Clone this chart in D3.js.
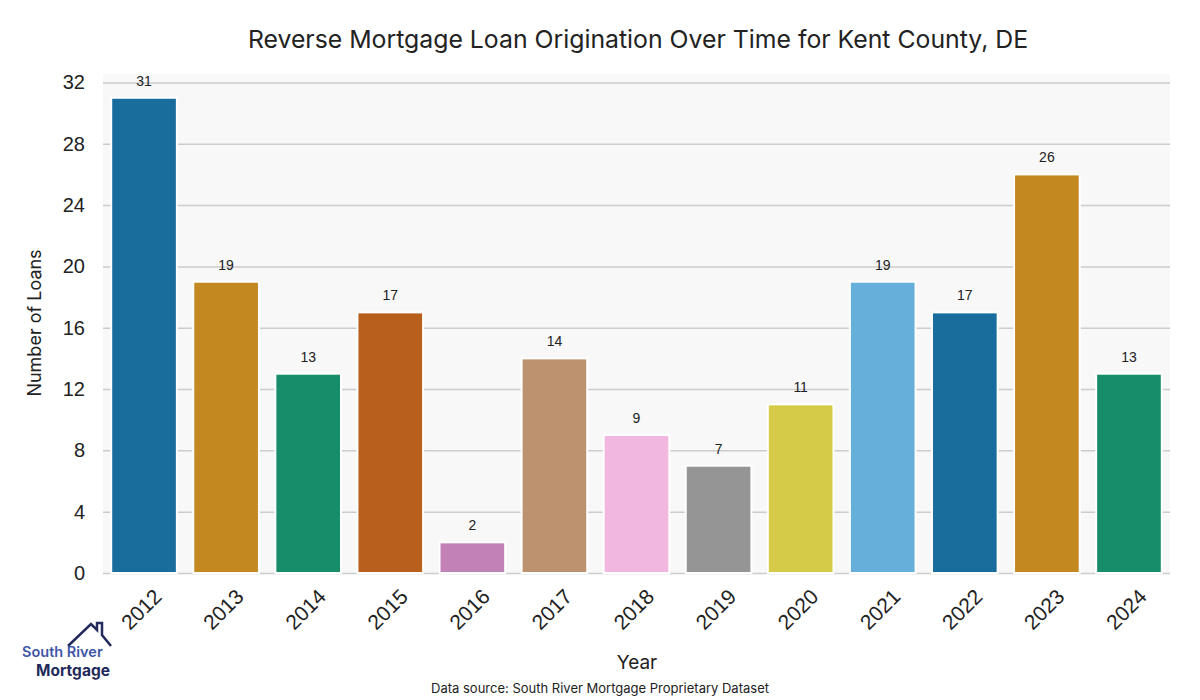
<!DOCTYPE html>
<html><head><meta charset="utf-8">
<script src="https://cdn.jsdelivr.net/npm/d3@7"></script>
<style>body{margin:0;background:#fff}</style>
</head><body>
<svg id="c" width="1200" height="700"></svg>
<script>
const years = ["2012","2013","2014","2015","2016","2017","2018","2019","2020","2021","2022","2023","2024"];
const loans = [31,19,13,17,2,14,9,7,11,19,17,26,13];
const yTicks = [0,4,8,12,16,20,24,28,32];
const palette = ["#186d9c","#c38820","#178d6a","#b85f1e","#c382b7","#bd926e","#f1b7e1","#959595","#d5cb49","#66afda"];

const svg = d3.select("#c");
const m = {l:103, r:1170, t:74, b:573};
const x = d3.scaleBand().domain(years).range([m.l, m.r]).paddingInner(0.2).paddingOuter(0.1);
const y = d3.scaleLinear().domain([0, d3.max(loans)*1.05]).range([m.b, m.t]);

svg.append("rect").attr("x",m.l).attr("y",m.t).attr("width",m.r-m.l).attr("height",m.b-m.t).attr("fill","#f8f8f8");

const gy = svg.append("g").attr("transform",`translate(${m.l},0)`)
  .call(d3.axisLeft(y).tickValues(yTicks).tickSize(-(m.r-m.l)).tickPadding(18));
gy.select(".domain").remove();
gy.selectAll(".tick line").attr("stroke","#cccccc").attr("stroke-width",1.5);
gy.selectAll(".tick text").attr("font-family","Liberation Sans, Arial, sans-serif").attr("font-size",20).attr("fill","#222");

svg.append("g").selectAll("rect").data(loans).join("rect")
  .attr("x",(d,i)=>x(years[i])).attr("width",x.bandwidth())
  .attr("y",d=>y(d)).attr("height",d=>y(0)-y(d))
  .attr("fill",(d,i)=>palette[i%palette.length])
  .attr("stroke","#fff").attr("stroke-width",2);

svg.append("g").selectAll("text").data(loans).join("text")
  .attr("x",(d,i)=>x(years[i])+x.bandwidth()/2).attr("y",d=>y(d)-12)
  .attr("text-anchor","middle").attr("font-family","Liberation Sans, Arial, sans-serif")
  .attr("font-size",14).attr("fill","#222").text(d=>d);

const gx = svg.append("g").attr("transform",`translate(0,${m.b})`)
  .call(d3.axisBottom(x).tickSize(0).tickPadding(0));
gx.select(".domain").remove();
gx.selectAll(".tick text")
  .attr("font-family","Liberation Sans, Arial, sans-serif").attr("font-size",21).attr("fill","#222")
  .attr("text-anchor","end").attr("dy",0)
  .attr("transform","translate(19,25) rotate(-45)");

svg.append("text").attr("x",638).attr("y",48).attr("text-anchor","middle")
  .attr("font-family","Inter, sans-serif").attr("font-size",24.8).attr("fill","#222")
  .text("Reverse Mortgage Loan Origination Over Time for Kent County, DE");

svg.append("text").attr("transform","translate(41,323) rotate(-90)").attr("text-anchor","middle")
  .attr("font-family","Inter, sans-serif").attr("font-size",18).attr("fill","#222").text("Number of Loans");

svg.append("text").attr("x",637).attr("y",669).attr("text-anchor","middle")
  .attr("font-family","Inter, sans-serif").attr("font-size",19).attr("fill","#222").text("Year");

svg.append("text").attr("x",600).attr("y",693).attr("text-anchor","middle")
  .attr("font-family","Inter, sans-serif").attr("font-size",13).attr("fill","#222")
  .text("Data source: South River Mortgage Proprietary Dataset");

// logo
const lg = svg.append("g");
lg.append("path").attr("d","M68,646 L91,624 L97,630 L97,623 L102,623 L102,635 L111,646")
  .attr("fill","none").attr("stroke","#232a5e").attr("stroke-width",2.5);
lg.append("text").attr("x",22).attr("y",657).attr("font-family","Inter, sans-serif").attr("font-weight",600)
  .attr("font-size",14.5).attr("fill","#4056a8").text("South River");
lg.append("text").attr("x",36).attr("y",676).attr("font-family","Inter, sans-serif").attr("font-weight",700)
  .attr("font-size",15.5).attr("fill","#1f2a5c").text("Mortgage");
</script>
</body></html>
